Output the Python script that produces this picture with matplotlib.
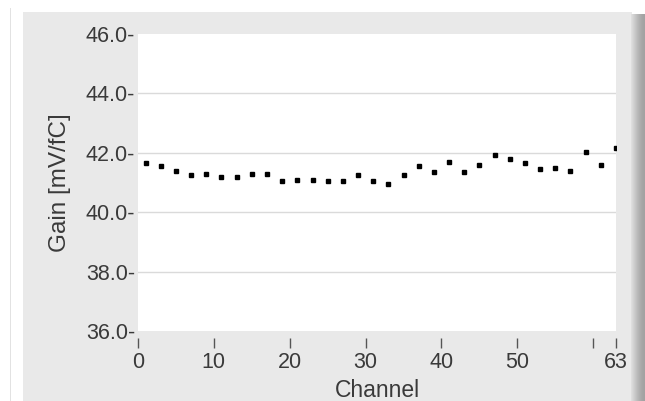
import matplotlib
matplotlib.use("Agg")
import matplotlib.pyplot as plt
from matplotlib.patches import Rectangle
import numpy as np

plt.rcParams['font.family'] = ['Liberation Sans', 'DejaVu Sans']

# gain per channel (odd channels only)
channels = list(range(1, 64, 2))
gain = [41.64, 41.55, 41.40, 41.26, 41.30, 41.20, 41.20, 41.30,
        41.30, 41.05, 41.10, 41.10, 41.05, 41.05, 41.26, 41.05,
        40.95, 41.25, 41.55, 41.35, 41.70, 41.35, 41.59, 41.94,
        41.80, 41.65, 41.45, 41.49, 41.39, 42.04, 41.59, 42.15]

xticks = [0, 10, 20, 30, 40, 50, 60, 63]
xticklabels = ['0', '10', '20', '30', '40', '50', '', '63']
yticks = [36, 38, 40, 42, 44, 46]
yticklabels = ['%.1f-' % v for v in yticks]

W, H = 645, 401
fig = plt.figure(figsize=(W / 100, H / 100), dpi=100)
fig.patch.set_facecolor('white')

# grey panel behind the graph
fig.add_artist(Rectangle((23 / W, 0), (632 - 23) / W, (H - 12) / H,
                         transform=fig.transFigure, facecolor='#e9e9e9',
                         edgecolor='none', zorder=-10))
# darker strip on the right
strip = ['#dedede', '#d8d8d8', '#d2d2d2', '#cccccc', '#c6c6c6', '#c0c0c0',
         '#bababa', '#b5b5b5', '#b0b0b0', '#acacac', '#a8a8a8', '#a5a5a5',
         '#a3a3a3', '#a2a2a2']
for i, c in enumerate(strip):
    fig.add_artist(Rectangle(((631 + i) / W, 0), 1.2 / W, (H - 14) / H,
                             transform=fig.transFigure, facecolor=c,
                             edgecolor='none', zorder=-10))
# thin line on the left
fig.add_artist(Rectangle((10 / W, 0), 1 / W, (H - 8) / H,
                         transform=fig.transFigure, facecolor='#e2e2e2',
                         edgecolor='none', zorder=-10))

ax = fig.add_axes([138 / W, (H - 331) / H, (616 - 138) / W, (331 - 34) / H])
ax.set_zorder(5)
ax.set_facecolor('white')
ax.plot(channels, gain, linestyle='none', marker='s', markersize=3.3,
        color='black', zorder=3)

ax.set_xlim(0, 63)
ax.set_ylim(36, 46)
ax.set_xticks(xticks)
ax.set_xticklabels(xticklabels)
ax.set_yticks(yticks)
ax.set_yticklabels(yticklabels)

for g in [38, 40, 42, 44]:
    ax.axhline(g, color='#dadada', linewidth=1.0, zorder=1)

for s in ['top', 'right', 'left']:
    ax.spines[s].set_visible(False)
ax.spines['bottom'].set_position(('outward', 5))
ax.spines['bottom'].set_color('none')

txt = '#3a3a3a'
ax.tick_params(axis='y', length=0, pad=2, labelsize=15.5, colors=txt)
ax.tick_params(axis='x', length=7, width=1, pad=3, labelsize=15.5,
               colors=txt, direction='out')
ax.tick_params(axis='x', color='#555555')

ax.set_xlabel('Channel', fontsize=16.5, color=txt)
ax.set_ylabel('Gain [mV/fC]', fontsize=17.5, color=txt)
ax.xaxis.set_label_coords(0.5, -0.16)
ax.yaxis.set_label_coords(-0.14, 0.5)

fig.savefig('out.png', dpi=100)
